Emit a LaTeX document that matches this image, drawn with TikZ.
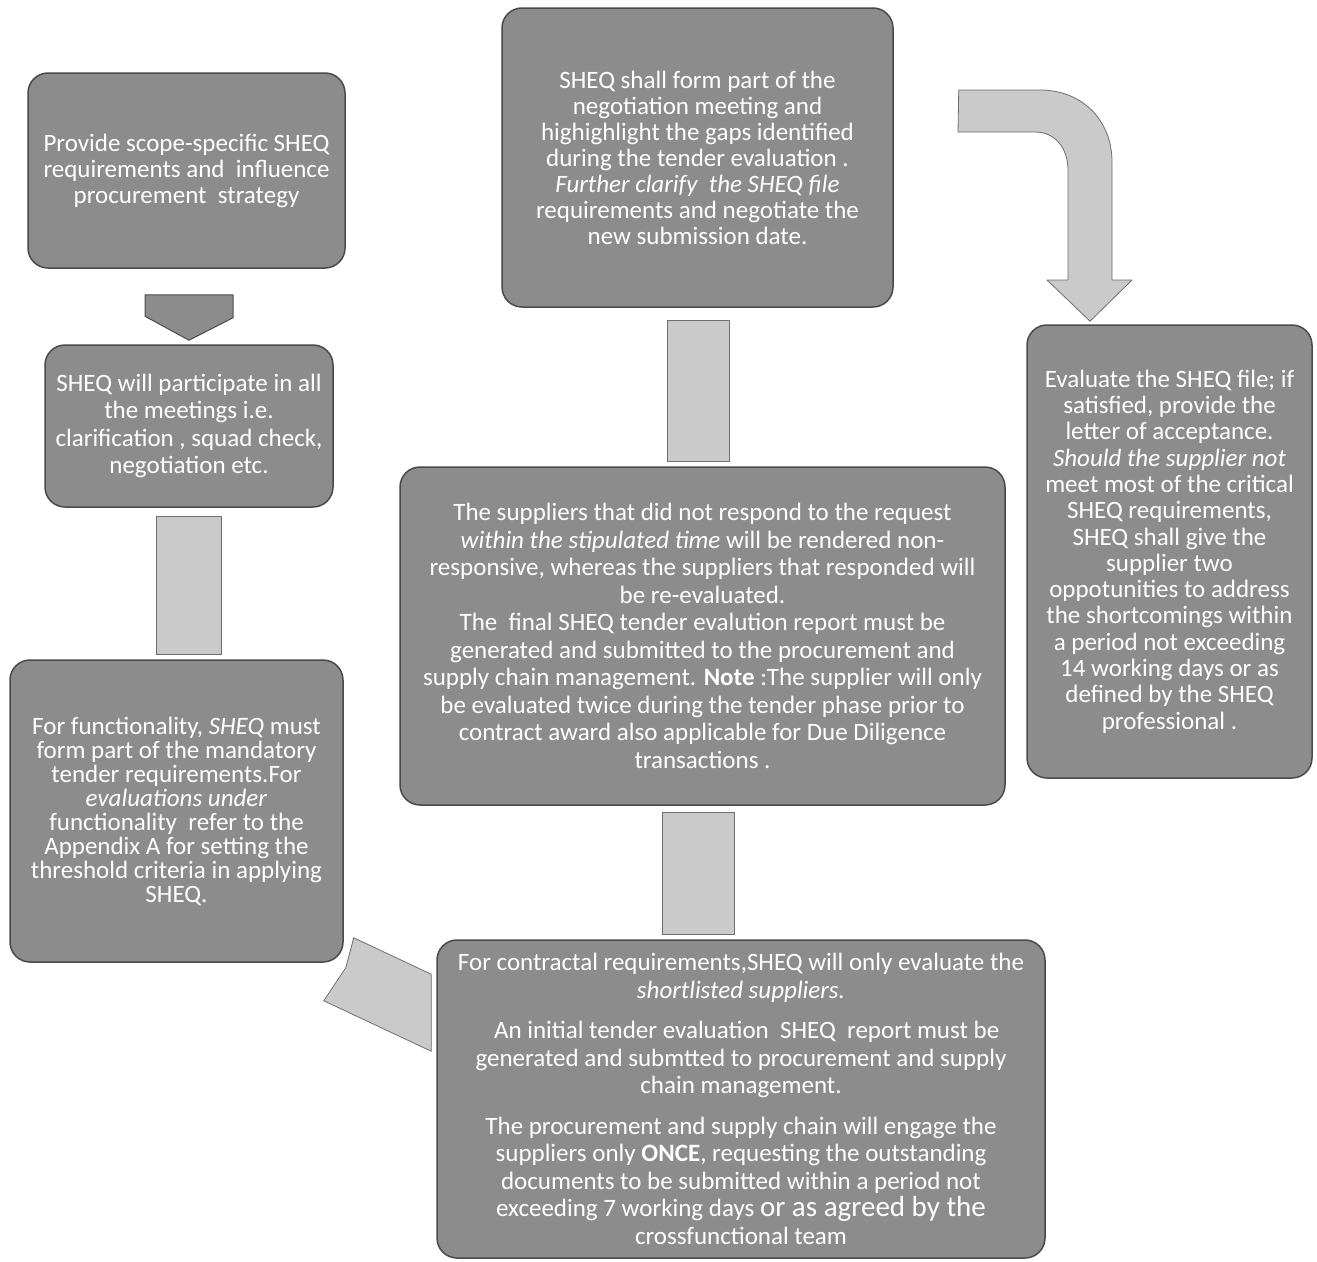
\documentclass[tikz,border=0pt]{standalone}
\usepackage{fontspec}
\setmainfont{Carlito}
\definecolor{boxgray}{HTML}{8C8C8C}
\definecolor{edgegray}{HTML}{4A4A4A}
\definecolor{linkgray}{HTML}{CACACA}
\begin{document}
\begin{tikzpicture}[x=1pt,y=-1pt,
  box/.style={shape=rectangle, rounded corners=20pt, draw=edgegray, line width=1.5pt, fill=boxgray, text=white, align=center, inner sep=0pt, font=\fontsize{25}{26}\selectfont},
  tight/.style={font=\fontsize{25}{24}\selectfont},
  loose/.style={font=\fontsize{25}{27.5}\selectfont},
  link/.style={fill=linkgray, draw=edgegray!80, line width=0.8pt, line join=round},
  head/.style={fill=boxgray, draw=edgegray, line width=1pt, line join=round}]
\useasboundingbox (0,0) rectangle (1317,1261);
\node[box, minimum width=317, minimum height=195] (scope) at (186.5,170.5) {Provide scope-specific SHEQ\\ requirements and\ \ influence\\ procurement\ \ strategy};
\node[box, loose, minimum width=288, minimum height=162] (part) at (189,426) {SHEQ will participate in all\\ the meetings i.e.\\ clarification , squad check,\\ negotiation etc.};
\node[box, tight, minimum width=333, minimum height=302] (func) at (176.5,811) {For functionality, \textit{SHEQ} must\\ form part of the mandatory\\ tender requirements.For\\ \textit{evaluations under}\\ functionality\ \ refer to the\\ Appendix A for setting the\\ threshold criteria in applying\\ SHEQ.};
\node[box, loose, minimum width=608, minimum height=318] (contract) at (741,1099) {For contractal requirements,SHEQ will only evaluate the\\ \textit{shortlisted suppliers.}\\[13pt] \ \ An initial tender evaluation\ \ SHEQ\ \ report must be\\ generated and submtted to procurement and supply\\ chain management.\\[13pt] The procurement and supply chain will engage the\\ suppliers only \textbf{ONCE}, requesting the outstanding\\ documents to be submitted within a period not\\ exceeding 7 working days {\fontsize{29}{27.5}\selectfont or as agreed by the}\\ crossfunctional team};
\node[box, loose, minimum width=605, minimum height=338] (reeval) at (702.5,636) {The suppliers that did not respond to the request\\ \textit{within the stipulated time} will be rendered non-\\ responsive, whereas the suppliers that responded will\\ be re-evaluated.\\ The\ \ final SHEQ tender evalution report must be\\ generated and submitted to the procurement and\\ supply chain management. \textbf{Note} :The supplier will only\\ be evaluated twice during the tender phase prior to\\ contract award also applicable for Due Diligence\\ transactions .};
\node[box, minimum width=391, minimum height=299] (neg) at (697.5,157.5) {SHEQ shall form part of the\\ negotiation meeting and\\ highighlight the gaps identified\\ during the tender evaluation .\\ \textit{Further clarify\ \ the SHEQ file}\\ requirements and negotiate the\\ new submission date.};
\node[box, font=\fontsize{25}{26.3}\selectfont, minimum width=285, minimum height=453] (accept) at (1169.5,551.5) {Evaluate the SHEQ file; if\\ satisfied, provide the\\ letter of acceptance.\\ \textit{Should the supplier not}\\ meet most of the critical\\ SHEQ requirements,\\ SHEQ shall give the\\ supplier two\\ oppotunities to address\\ the shortcomings within\\ a period not exceeding\\ 14 working days or as\\ defined by the SHEQ\\ professional .};
\path[head] ([xshift=-41.5pt,yshift=-26pt]scope.south) -- ++(88,0) -- ++(0,23) -- ([yshift=4pt]part.north) -- ++(-44,-24) -- cycle;
\path[link] ([xshift=-33pt,yshift=-9pt]part.south) rectangle ([xshift=44.5pt,yshift=5pt]func.north);
\path[link] ([xshift=-30.5pt,yshift=-13pt]neg.south) rectangle ([xshift=26.5pt,yshift=5pt]reeval.north);
\path[link] ([xshift=-40.5pt,yshift=-7pt]reeval.south) rectangle ([xshift=-7pt,yshift=5pt]contract.north);
\path[link] ([xshift=10pt,yshift=25pt]func.south east) -- ([xshift=-5pt,yshift=-35pt]contract.north west) -- ([xshift=-5pt,yshift=-112pt]contract.north west) -- ([xshift=-20pt,yshift=-38pt]func.south east) -- ([xshift=2pt,yshift=-5pt]func.south east) -- cycle;
\path[link] ([xshift=65pt,yshift=67.5pt]neg.east) -- (1040,90) .. controls (1082,90) and (1112,120) .. (1112,162) -- (1112,280) -- (1132,280) -- ([xshift=-79.5pt,yshift=3pt]accept.north) -- (1047,280) -- (1068,280) -- (1068,170) .. controls (1068,148) and (1055,132) .. (1035,132) -- (958,132) -- cycle;
\end{tikzpicture}
\end{document}
